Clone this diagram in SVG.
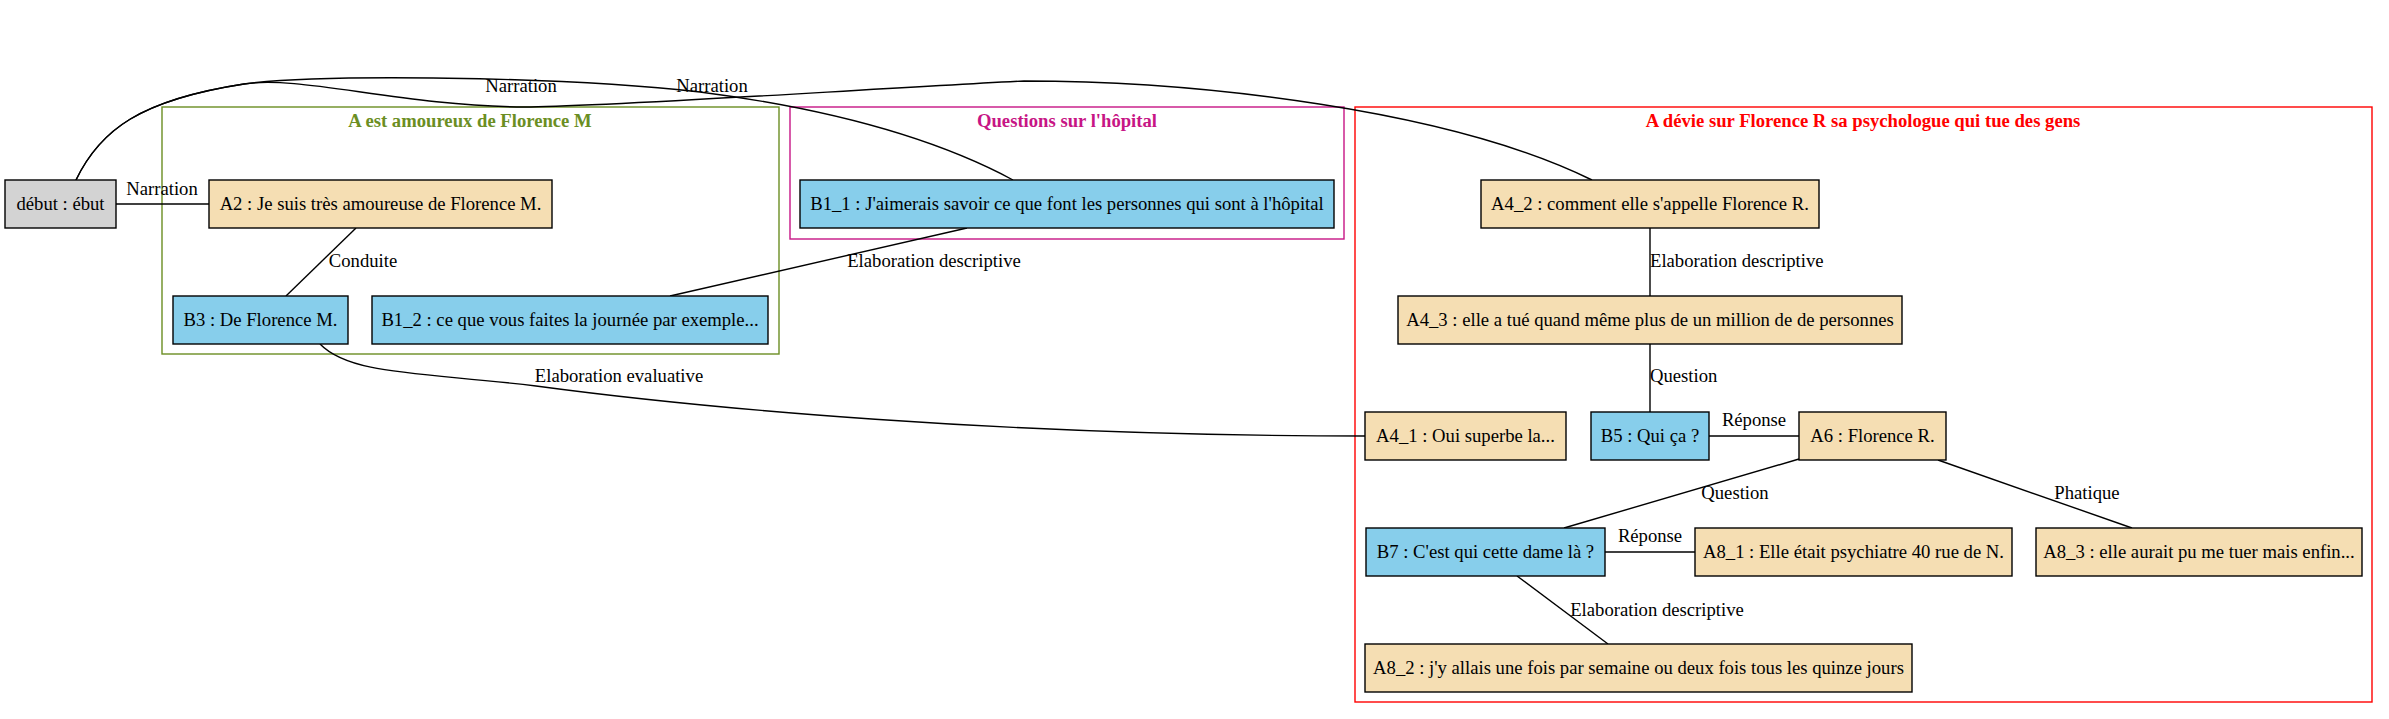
<svg xmlns="http://www.w3.org/2000/svg" width="2389" height="719" viewBox="0 0 2389 719">
<style>
text{font-family:"Liberation Serif","Times New Roman",serif;font-size:18.67px;fill:#000}
.n rect{stroke:#000;stroke-width:1.4}
.n text{text-anchor:middle}
.a{fill:#f5deb3}
.b{fill:#87ceeb}
.g{fill:#d3d3d3}
.cl{fill:none;stroke-width:1.4}
.ct{font-weight:bold;text-anchor:middle}
.e path{fill:none;stroke:#000;stroke-width:1.4}
.el{text-anchor:middle}
</style>
<rect width="2389" height="719" fill="#fff"/>
<g id="cluster_green">
<rect class="cl" x="162" y="107" width="617" height="247" stroke="#6b8e23"/>
<text class="ct" x="470" y="127" style="fill:#6b8e23">A est amoureux de Florence M</text>
</g>
<g id="cluster_pink">
<rect class="cl" x="790" y="107" width="554" height="132" stroke="#c71585"/>
<text class="ct" x="1067" y="127" style="fill:#c71585">Questions sur l'hôpital</text>
</g>
<g id="cluster_red">
<rect class="cl" x="1355" y="107" width="1017" height="595" stroke="#ff0000"/>
<text class="ct" x="1863" y="127" style="fill:#ff0000">A dévie sur Florence R sa psychologue qui tue des gens</text>
</g>
<g id="edges" class="e">
<path d="M116,204 L209,204"/>
<path d="M76,180 C100,130 140,100 244,84 C320,74 560,76 700,92 C800,105 920,130 1013,180"/>
<path d="M76,180 C100,130 140,100 244,84 C300,75 400,106 525,107 C600,107 850,90 1024,81 C1200,81 1450,110 1592,180"/>
<path d="M356,228 L286,296"/>
<path d="M967,228 L670,296"/>
<path d="M320,344 C350,375 420,372 536,386 C700,408 1000,436 1365,436"/>
<path d="M1650,228 L1650,296"/>
<path d="M1650,344 L1650,412"/>
<path d="M1709,436 L1799,436"/>
<path d="M1799,459 L1564,528"/>
<path d="M1938,460 L2132,528"/>
<path d="M1605,552 L1695,552"/>
<path d="M1517,576 L1608,644"/>
<text class="el" x="162" y="195">Narration</text>
<text class="el" x="521" y="92">Narration</text>
<text class="el" x="712" y="92">Narration</text>
<text class="el" x="363" y="267">Conduite</text>
<text class="el" x="934" y="267">Elaboration descriptive</text>
<text class="el" x="619" y="382">Elaboration evaluative</text>
<text x="1650" y="267">Elaboration descriptive</text>
<text x="1650" y="382">Question</text>
<text class="el" x="1754" y="426">Réponse</text>
<text class="el" x="1735" y="499">Question</text>
<text class="el" x="2087" y="499">Phatique</text>
<text class="el" x="1650" y="542">Réponse</text>
<text class="el" x="1657" y="616">Elaboration descriptive</text>
</g>
<g id="debut" class="n"><rect class="g" x="5" y="180" width="111" height="48"/><text x="60.5" y="210">début : ébut</text></g>
<g id="A2" class="n"><rect class="a" x="209" y="180" width="343" height="48"/><text x="380.5" y="210">A2 : Je suis très amoureuse de Florence M.</text></g>
<g id="B3" class="n"><rect class="b" x="173" y="296" width="175" height="48"/><text x="260.5" y="326">B3 : De Florence M.</text></g>
<g id="B1_2" class="n"><rect class="b" x="372" y="296" width="396" height="48"/><text x="570" y="326">B1_2 : ce que vous faites la journée par exemple...</text></g>
<g id="B1_1" class="n"><rect class="b" x="800" y="180" width="534" height="48"/><text x="1067" y="210">B1_1 : J'aimerais savoir ce que font les personnes qui sont à l'hôpital</text></g>
<g id="A4_2" class="n"><rect class="a" x="1481" y="180" width="338" height="48"/><text x="1650" y="210">A4_2 : comment elle s'appelle Florence R.</text></g>
<g id="A4_3" class="n"><rect class="a" x="1398" y="296" width="504" height="48"/><text x="1650" y="326">A4_3 : elle a tué quand même plus de un million de de personnes</text></g>
<g id="A4_1" class="n"><rect class="a" x="1365" y="412" width="201" height="48"/><text x="1465.5" y="442">A4_1 : Oui superbe la...</text></g>
<g id="B5" class="n"><rect class="b" x="1591" y="412" width="118" height="48"/><text x="1650" y="442">B5 : Qui ça ?</text></g>
<g id="A6" class="n"><rect class="a" x="1799" y="412" width="147" height="48"/><text x="1872.5" y="442">A6 : Florence R.</text></g>
<g id="B7" class="n"><rect class="b" x="1366" y="528" width="239" height="48"/><text x="1485.5" y="558">B7 : C'est qui cette dame là ?</text></g>
<g id="A8_1" class="n"><rect class="a" x="1695" y="528" width="317" height="48"/><text x="1853.5" y="558">A8_1 : Elle était psychiatre 40 rue de N.</text></g>
<g id="A8_3" class="n"><rect class="a" x="2036" y="528" width="326" height="48"/><text x="2199" y="558">A8_3 : elle aurait pu me tuer mais enfin...</text></g>
<g id="A8_2" class="n"><rect class="a" x="1365" y="644" width="547" height="48"/><text x="1638.5" y="674">A8_2 : j'y allais une fois par semaine ou deux fois tous les quinze jours</text></g>
</svg>
